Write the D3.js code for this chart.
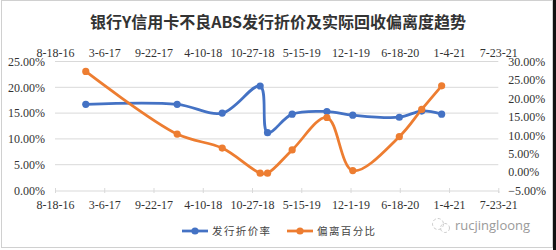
<!DOCTYPE html>
<html>
<head>
<meta charset="utf-8">
<script src="https://cdn.jsdelivr.net/npm/d3@7"></script>
<style>
  html, body { margin: 0; padding: 0; background: #fff; }
</style>
</head>
<body>
<div id="chart-container"></div>
<script>
const issueDates = ["2016-12-21", "2017-12-27", "2018-06-28", "2018-11-29", "2018-12-29", "2019-04-08",
    "2019-08-27", "2019-12-10", "2020-06-16", "2020-09-15", "2020-12-05"];
const discountRate = [16.7, 16.7, 15.0, 20.25, 11.2, 14.8, 15.3, 14.6, 14.2, 15.4, 14.8];
const deviation = [27.3, 10.3, 6.5, -0.3, -0.3, 6.0, 14.8, 0.4, 9.6, 17.0, 23.4];
const dateTicks = ["2016-08-18", "2017-03-06", "2017-09-22", "2018-04-10", "2018-10-27",
    "2019-05-15", "2019-12-01", "2020-06-18", "2021-01-04", "2021-07-23"];
const leftTicks = [0, 5, 10, 15, 20, 25];
const rightTicks = [-5, 0, 5, 10, 15, 20, 25, 30];
const seriesNames = ["发行折价率", "偏离百分比"];
const title = "银行Y信用卡不良ABS发行折价及实际回收偏离度趋势";

document.addEventListener("DOMContentLoaded", () => {
    const width = 556;
    const height = 250;
    const plotLeft = 55;
    const plotRight = 498.3;
    const plotTop = 61.5;
    const plotBottom = 190.5;
    const blue = "#4472C4";
    const orange = "#ED7D31";
    const serif = "'Liberation Serif', 'DejaVu Serif', serif";
    const cjk = "'Noto Sans CJK SC', sans-serif";

    const parse = d3.utcParse("%Y-%m-%d");
    const fmtDate = d3.utcFormat("%-m-%-d-%y");
    const fmtPct = d => d3.format(".2f")(d) + "%";

    const rows = issueDates.map((d, i) => ({
        date: parse(d), rate: discountRate[i], dev: deviation[i]
    }));
    const ticks = dateTicks.map(parse);

    const x = d3.scaleUtc()
        .domain([ticks[0], ticks[ticks.length - 1]])
        .range([plotLeft, plotRight]);
    const yLeft = d3.scaleLinear().domain([0, 25]).range([plotBottom, plotTop]);
    const yRight = d3.scaleLinear().domain([-5, 30]).range([plotBottom, plotTop]);

    const svg = d3.select("#chart-container")
        .append("svg")
        .attr("width", width)
        .attr("height", height)
        .attr("viewBox", [0, 0, width, height])
        .style("display", "block");

    // cadre
    svg.append("rect")
        .attr("x", 1.5).attr("y", 0.5)
        .attr("width", 551).attr("height", 247)
        .attr("fill", "#fff")
        .attr("stroke", "#d0d0d0");
    svg.append("rect")
        .attr("x", 553).attr("y", 0)
        .attr("width", 3).attr("height", height)
        .attr("fill", "#111");

    // titre
    svg.append("text")
        .attr("x", 278)
        .attr("y", 28)
        .attr("text-anchor", "middle")
        .attr("font-family", cjk)
        .attr("font-weight", "bold")
        .attr("font-size", "16px")
        .attr("fill", "#333")
        .text(title);

    // grille
    svg.append("g")
        .attr("stroke", "#d9d9d9")
        .selectAll("line")
        .data(leftTicks.filter(d => d > 0))
        .join("line")
        .attr("x1", plotLeft).attr("x2", plotRight)
        .attr("y1", d => yLeft(d)).attr("y2", d => yLeft(d));

    // axe du bas
    svg.append("g")
        .attr("transform", `translate(0,${plotBottom})`)
        .call(d3.axisBottom(x).tickValues(ticks).tickFormat(fmtDate).tickSize(2.5).tickPadding(7))
        .call(g => g.select(".domain").attr("stroke", "#d9d9d9"))
        .call(g => g.selectAll(".tick line").attr("stroke", "#d9d9d9").attr("y1", -2.5))
        .call(g => g.selectAll("text")
            .attr("font-family", serif).attr("font-size", "12px").attr("fill", "#333"));

    // axe du haut (étiquettes seulement)
    svg.append("g")
        .attr("transform", `translate(0,${plotTop - 5})`)
        .call(d3.axisTop(x).tickValues(ticks).tickFormat(fmtDate).tickSize(0).tickPadding(0))
        .call(g => g.select(".domain").remove())
        .call(g => g.selectAll("text")
            .attr("font-family", serif).attr("font-size", "12px").attr("fill", "#333"));

    // axes verticaux
    svg.append("g")
        .attr("transform", `translate(${plotLeft},0)`)
        .call(d3.axisLeft(yLeft).tickValues(leftTicks).tickFormat(fmtPct).tickSize(0).tickPadding(10))
        .call(g => g.select(".domain").remove())
        .call(g => g.selectAll("text")
            .attr("font-family", serif).attr("font-size", "12px").attr("fill", "#333"));

    svg.append("g")
        .attr("transform", `translate(${plotRight},0)`)
        .call(d3.axisRight(yRight).tickValues(rightTicks).tickFormat(fmtPct).tickSize(0).tickPadding(10))
        .call(g => g.select(".domain").remove())
        .call(g => g.selectAll("text")
            .attr("font-family", serif).attr("font-size", "12px").attr("fill", "#333"));

    // séries
    const series = [
        { name: seriesNames[0], color: blue, y: d => yLeft(d.rate) },
        { name: seriesNames[1], color: orange, y: d => yRight(d.dev) }
    ];

    const line = s => d3.line()
        .x(d => x(d.date))
        .y(s.y)
        .curve(d3.curveCatmullRom.alpha(0.5));

    series.forEach(s => {
        svg.append("path")
            .datum(rows)
            .attr("fill", "none")
            .attr("stroke", s.color)
            .attr("stroke-width", 2.75)
            .attr("stroke-linejoin", "round")
            .attr("d", line(s));
        svg.append("g")
            .attr("fill", s.color)
            .selectAll("circle")
            .data(rows)
            .join("circle")
            .attr("cx", d => x(d.date))
            .attr("cy", s.y)
            .attr("r", 3.6);
    });

    // légende
    const legend = svg.append("g")
        .selectAll("g")
        .data(series)
        .join("g")
        .attr("transform", (d, i) => `translate(${182 + i * 105},231)`);
    legend.append("line")
        .attr("x1", 0).attr("x2", 26)
        .attr("stroke", d => d.color)
        .attr("stroke-width", 2.75);
    legend.append("circle")
        .attr("cx", 13).attr("r", 3.6)
        .attr("fill", d => d.color);
    legend.append("text")
        .attr("x", 30)
        .attr("dy", "0.35em")
        .attr("font-family", cjk)
        .attr("font-size", "10.5px")
        .attr("letter-spacing", "1.4px")
        .attr("fill", "#444")
        .text(d => d.name);

    // filigrane
    const wm = svg.append("g").attr("transform", "translate(441,225)");
    wm.append("circle").attr("cx", -3).attr("cy", -1).attr("r", 5.5)
        .attr("fill", "none").attr("stroke", "#ccc").attr("stroke-dasharray", "3 2");
    wm.append("circle").attr("cx", 4).attr("cy", 3).attr("r", 4.5)
        .attr("fill", "none").attr("stroke", "#ccc").attr("stroke-dasharray", "3 2");
    wm.append("text")
        .attr("x", 14)
        .attr("dy", "0.35em")
        .attr("font-family", "'Open Sans', sans-serif")
        .attr("font-size", "13px")
        .attr("fill", "#9a9a9a")
        .text("rucjingloong");
});
</script>
</body>
</html>
